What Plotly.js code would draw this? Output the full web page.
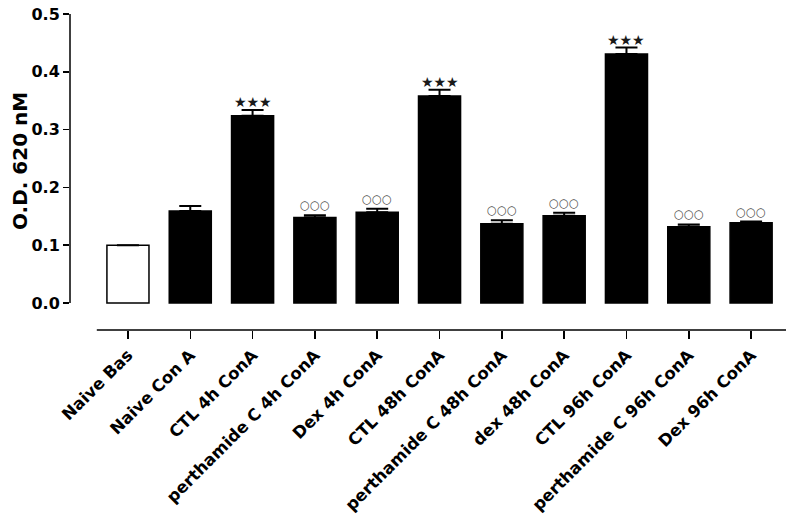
<!doctype html>
<html>
	<head>
		<meta charset="utf-8">
		<script src="https://cdn.plot.ly/plotly-3.0.1.min.js"></script>
		<style>
			body { margin: 0; background: #fff; }
			#chart { width: 792px; height: 527px; }
		</style>
	</head>
	<body>
		<div id="chart"></div>
		<script>
			let groups = [
				'Naive Bas', 'Naive Con A', 'CTL 4h ConA', 'perthamide C 4h ConA', 'Dex 4h ConA',
				'CTL 48h ConA', 'perthamide C 48h ConA', 'dex 48h ConA', 'CTL 96h ConA',
				'perthamide C 96h ConA', 'Dex 96h ConA'
			]
			let od = [0.100, 0.159, 0.324, 0.148, 0.157, 0.358, 0.137, 0.151, 0.431, 0.132, 0.139]
			let sem = [null, 0.009, 0.010, 0.004, 0.006, 0.011, 0.006, 0.005, 0.011, 0.004, 0.002]
			let marks = ['', '', '***', 'ooo', 'ooo', '***', 'ooo', 'ooo', '***', 'ooo', 'ooo']

			let font = '"DejaVu Sans", Arial, sans-serif'
			let fills = groups.map((g, i) => i === 0 ? '#ffffff' : '#000000')

			let bars = {
				type: 'bar',
				x: groups,
				y: od,
				marker: { color: fills, line: { color: '#000', width: 1.5 } },
				error_y: { type: 'data', array: sem, arrayminus: sem.map(() => 0), symmetric: false,
					color: '#000', thickness: 2, width: 11 },
				hoverinfo: 'x+y'
			}

			let notes = []
			marks.forEach((m, i) => {
				if (!m) return
				let star = m === '***'
				notes.push({
					x: groups[i], y: od[i] + (sem[i] || 0), xref: 'x', yref: 'y',
					text: star ? '★★★' : '○○○',
					showarrow: false, yanchor: 'bottom', yshift: star ? -2 : 1,
					font: { family: '"DejaVu Sans", sans-serif', size: star ? 14 : 11.5, color: star ? '#1a1a1a' : '#4a4a4a' }
				})
			})
			notes.push({
				x: -0.069, xref: 'paper', y: 0.245, yref: 'y', textangle: -90,
				text: 'O.D. 620 nM', showarrow: false, xanchor: 'center', yanchor: 'middle',
				font: { family: font, size: 20, weight: 'bold', color: '#000' }
			})

			Plotly.newPlot('chart', [bars], {
				width: 792, height: 527,
				margin: { l: 70, r: 6, t: 14, b: 197 },
				paper_bgcolor: '#fff', plot_bgcolor: '#fff',
				showlegend: false,
				bargap: 0.325,
				xaxis: {
					type: 'category', range: [-0.93, 10.56],
					showline: false, showgrid: false, zeroline: false,
					ticks: 'outside', ticklen: 8, tickwidth: 1.5, tickcolor: '#000',
					tickangle: -45,
					tickfont: { family: font, size: 16.5, weight: 'bold', color: '#000' }
				},
				yaxis: {
					range: [-0.0467, 0.5],
					tickvals: [0, 0.1, 0.2, 0.3, 0.4, 0.5], tickformat: '.1f',
					showline: false, showgrid: false, zeroline: false,
					ticks: 'outside', ticklen: 6, tickwidth: 1.5, tickcolor: '#000',
					tickfont: { family: font, size: 16, weight: 'bold', color: '#000' }
				},
				shapes: [
					{ type: 'line', xref: 'paper', yref: 'y', x0: 0, x1: 0, y0: 0, y1: 0.5,
						line: { color: '#000', width: 1.5 } },
					{ type: 'line', xref: 'x', yref: 'paper', x0: -0.5, x1: 10.56, y0: 0, y1: 0,
						line: { color: '#000', width: 1.5 } }
				],
				annotations: notes
			}, { displayModeBar: false, staticPlot: true })
		</script>
	</body>
</html>
